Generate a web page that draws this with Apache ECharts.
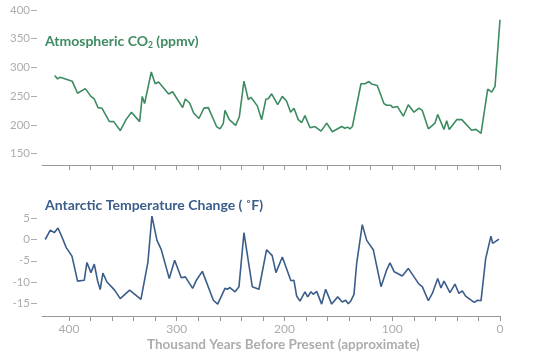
<!DOCTYPE html>
<html><head><meta charset="utf-8">
<script src="https://cdn.jsdelivr.net/npm/echarts@6/dist/echarts.min.js"></script>
<style>html,body{margin:0;padding:0;background:#fff}#c{width:540px;height:356px}</style>
</head><body><div id="c"></div>
<script>
// Thousand years before present and CO2 (ppmv)
const co2Years = [413.3,410.5,408,397,392,384.8,379.6,376.5,373,369.4,362.6,358.5,352.4,347,342,334.4,332,329.8,323.6,320,316.8,307.5,303.8,294.5,292,288,284.3,279.4,274.7,270.7,263,259.9,256.8,255.2,251.2,245.3,241.9,237.6,233.6,231.1,225.2,221.2,217.2,215,211.9,206.3,202,198,194.3,191.2,187.2,184,181,176.3,171.7,166.1,160.8,155.6,146.9,143.9,141.4,139.2,137,129,125.3,121.6,119.1,113.9,107.7,105.2,101.4,99.6,95.3,89.7,85.1,79.8,75.2,72.1,66.5,60.3,57.8,52,49.5,47.1,40.2,35.5,26.3,22.3,17.6,11.4,7.7,4.6,0];
const co2Values = [286,280,283,276,255,263,249.5,245,230,229,206,205.6,190,209,222,205.6,249.5,237,292,271.5,274.5,253.6,257.6,230,245,238,220.6,211,229,230,197,193,202,225,209,199,214,276,244,248,233,209,245,245.5,254,235,249.5,241,222,229,209,204,216,195,197,189,203,188,197,194,196,193,197,271.5,271.5,275.5,271,268.6,237,234,234,230,232,215,235,222,229,225,193,203,218,192,207,192,209,209,190.5,192,185,262,257,267,383];
// Thousand years before present and Antarctic temperature change (°F)
const tempYears = [422,417.3,413.6,410.2,406.5,402.5,397.2,392,390.4,385.8,383.3,379.6,376.5,373.4,371,368.5,364.7,357.6,352.4,343.7,333.2,326.7,323,318.3,314.3,306.9,301.9,295.8,292,285.2,281.8,276.2,266,262,255.2,253,250.6,245.9,242.2,237.6,229.9,223.7,216.6,211.4,207.9,202,194,191.2,188.7,185.6,181,178.5,175.4,173.3,170.1,165.5,161.8,156.2,150.6,146.4,143.2,140.8,138.3,135.5,133,127.8,123.7,117.6,110.4,105.2,102.1,98.1,90.7,85.1,75.2,72.1,66.5,62.8,57.8,54.8,52,46.4,41.8,38.1,35,31.9,23.9,20.7,17.6,13.3,8.4,6.8,0.9];
const tempValues = [0,2.2,1.6,2.7,0.6,-1.9,-3.9,-9.8,-9.7,-9.6,-5.4,-7.8,-5.8,-9.7,-11.8,-7.9,-10,-11.9,-13.9,-11.9,-14.1,-5.3,5.5,-0.2,-2.4,-9.2,-4.9,-9,-8.8,-11.5,-9.6,-7.5,-14.3,-15.2,-11.5,-11.7,-11.3,-12.3,-11.1,1.6,-11.1,-11.7,-2.4,-3.8,-7.8,-4.1,-9.7,-9.6,-13.3,-14.5,-12.3,-13.5,-12.3,-12.9,-12.2,-15.2,-11.7,-15.2,-13.5,-14.7,-14.3,-15.1,-14.4,-12.9,-5.6,3.5,-0.2,-2.4,-11.1,-7.2,-5.5,-7.6,-8.6,-6.8,-10.5,-11.1,-14.4,-12.7,-9.2,-11.4,-9.8,-12.5,-10.5,-12.7,-12.1,-13.3,-14.8,-14.3,-14.4,-4.5,0.8,-0.9,0.1];
const co2Ticks = [150,200,250,300,350,400];
const tempTicks = [-15,-10,-5,0,5];
const xLabelTicks = [0,100,200,300,400];
const xMinorTicks = [0,20,40,60,80,100,120,140,160,180,200,220,240,260,280,300,320,340,360,380,400];

const FONT = 'Lato, "DejaVu Sans", sans-serif';
const GREEN = '#3d8b61', BLUE = '#3b5d8a', GREY = '#adadad', AXIS = '#999999';

function xAxisCfg(gi, showLabels) {
  return {
    type: 'value', gridIndex: gi, inverse: true, min: 0, max: 425, position: 'bottom',
    axisLine: { onZero: false, lineStyle: { color: AXIS, width: 1 } },
    axisTick: { show: true, length: 5, customValues: xMinorTicks, lineStyle: { color: AXIS } },
    axisLabel: { show: showLabels, customValues: xLabelTicks, color: GREY, fontSize: 12, fontFamily: FONT, margin: 7 },
    splitLine: { show: false }
  };
}
function yAxisCfg(gi, min, max, ticks) {
  return {
    type: 'value', gridIndex: gi, min: min, max: max, offset: 5, position: 'left',
    axisLine: { show: false, onZero: false },
    axisTick: { show: true, length: 6, customValues: ticks, lineStyle: { color: GREY } },
    axisLabel: { customValues: ticks, color: GREY, fontSize: 11.5, fontFamily: FONT, margin: 7 },
    splitLine: { show: false }
  };
}

const chart = echarts.init(document.getElementById('c'), null, { renderer: 'canvas' });
chart.setOption({
  animation: false,
  backgroundColor: '#fff',
  grid: [
    { left: 42, right: 40, top: 10, height: 155 },
    { left: 42, right: 40, top: 209.75, height: 106.25 }
  ],
  xAxis: [xAxisCfg(0, false), xAxisCfg(1, true)],
  yAxis: [yAxisCfg(0, 130, 400, co2Ticks), yAxisCfg(1, -18, 7, tempTicks)],
  title: [
    { left: 45, top: 33, padding: 0,
      text: '{b|Atmospheric CO}{s|2}{n| (ppmv)}',
      textStyle: { rich: {
        b: { fontFamily: FONT, fontWeight: 'bold', fontSize: 14, color: GREEN, lineHeight: 17 },
        s: { fontFamily: FONT, fontWeight: 'bold', fontSize: 8.5, color: GREEN, lineHeight: 17, verticalAlign: 'bottom', padding: [7,0,0,0] },
        n: { fontFamily: FONT, fontSize: 14, color: GREEN, lineHeight: 17 }
      } } },
    { left: 45, top: 197, padding: 0,
      text: '{b|Antarctic Temperature Change}{n| ( ˚F)}',
      textStyle: { rich: {
        b: { fontFamily: FONT, fontWeight: 'bold', fontSize: 14, color: BLUE, lineHeight: 17 },
        n: { fontFamily: FONT, fontSize: 14, color: BLUE, lineHeight: 17 }
      } } },
    { left: 147, top: 336.5, padding: 0,
      text: '{b|Thousand Years Before Present}{n| (approximate)}',
      textStyle: { rich: {
        b: { fontFamily: FONT, fontWeight: 'bold', fontSize: 13.5, color: GREY, lineHeight: 16 },
        n: { fontFamily: FONT, fontSize: 13.5, color: GREY, lineHeight: 16 }
      } } }
  ],
  series: [
    { type: 'line', xAxisIndex: 0, yAxisIndex: 0, symbol: 'none', silent: true,
      lineStyle: { color: GREEN, width: 1.6 },
      data: co2Years.map((y, i) => [y, co2Values[i]]) },
    { type: 'line', xAxisIndex: 1, yAxisIndex: 1, symbol: 'none', silent: true,
      lineStyle: { color: BLUE, width: 1.6 },
      data: tempYears.map((y, i) => [y, tempValues[i]]) }
  ]
});
</script></body></html>
